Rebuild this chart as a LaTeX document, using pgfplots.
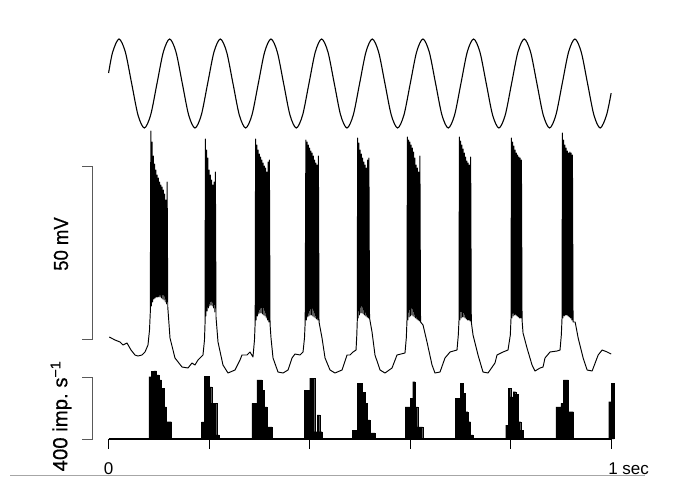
\documentclass[border=0pt]{standalone}
\usepackage{pgfplots}
\pgfplotsset{compat=1.18}
\usepackage{fontspec}
\setmainfont{Liberation Sans}
\newfontfamily\boldish[FakeBold=0.6]{Liberation Sans}
\newcommand\lbl{\fontsize{17}{20}\selectfont}
\newcommand\slbl{\boldish\fontsize{18.5}{22}\selectfont}
\begin{document}
\begin{tikzpicture}
\begin{axis}[
  scale only axis, width=675pt, height=480pt,
  xmin=-216.1, xmax=1127.1, ymin=-480, ymax=0,
  hide axis, clip=false,
  hist/.style={const plot, fill=black, draw=black, line width=0.2pt,
               y filter/.expression={-439+0.155*y}},
]
% ---- stimulus (sinusoid), x in ms, y in picture units ----
\addplot[black, line width=1.1pt, smooth] coordinates {
(0,-73) (8.1,-52) (20.7,-39) (33.3,-52) (45.9,-83.5) (58.5,-115) (71.1,-128) (83.7,-115) (96.3,-83.5) (108.9,-52)
(121.5,-39) (134.1,-52) (146.7,-83.5) (159.3,-115) (171.9,-128) (184.5,-115) (197.1,-83.5) (209.7,-52)
(222.3,-39) (234.9,-52) (247.5,-83.5) (260.1,-115) (272.7,-128) (285.3,-115) (297.9,-83.5) (310.5,-52)
(323.1,-39) (335.7,-52) (348.3,-83.5) (360.9,-115) (373.5,-128) (386.1,-115) (398.7,-83.5) (411.3,-52)
(423.9,-39) (436.5,-52) (449.1,-83.5) (461.7,-115) (474.3,-128) (486.9,-115) (499.5,-83.5) (512.1,-52)
(524.7,-39) (537.3,-52) (549.9,-83.5) (562.5,-115) (575.1,-128) (587.7,-115) (600.3,-83.5) (612.9,-52)
(625.5,-39) (638.1,-52) (650.7,-83.5) (663.3,-115) (675.9,-128) (688.5,-115) (701.1,-83.5) (713.7,-52)
(726.3,-39) (738.9,-52) (751.5,-83.5) (764.1,-115) (776.7,-128) (789.3,-115) (801.9,-83.5) (814.5,-52)
(827.1,-39) (839.7,-52) (852.3,-83.5) (864.9,-115) (877.5,-128) (890.1,-115) (902.7,-83.5) (915.3,-52)
(927.9,-39) (940.5,-52) (953.1,-83.5) (965.7,-115) (978.3,-128) (990.9,-115) (1000,-93.1)
};
% ---- membrane potential with spike bursts ----
\addplot[black, line width=0.95pt, line join=round] coordinates {
(1.4,-337) (12.7,-340) (22.7,-342) (28.7,-345) (36.6,-343) (44.6,-350) (52.5,-355) (58.5,-356) (66.5,-355) (72.4,-352) (78.4,-345) (81.4,-330) (83.0,-312)
(84,-131) (85.25,-306) (86.5,-142) (87.75,-302) (89,-156) (90.25,-299) (91.5,-164) (92.75,-298) (94,-170) (95.25,-297)
(96.5,-175) (97.75,-297) (99,-178) (100.25,-297) (101.5,-182) (102.75,-297) (104,-185) (105.25,-298) (106.5,-187) (107.75,-299)
(109,-190) (110.25,-300) (111.5,-194) (112.75,-302) (114,-200) (115.25,-304) (116.5,-182) (117.75,-307)
(122.2,-338) (132.1,-358) (146.1,-367) (158,-368) (165.9,-363) (171.9,-365) (177.9,-360) (187.8,-355) (190.8,-340) (192,-322)
(192.5,-139) (193.75,-316) (195,-150) (196.25,-311) (197.5,-158) (198.75,-308) (200,-170) (201.25,-306) (202.5,-175) (203.75,-305)
(205,-180) (206.25,-306) (207.5,-185) (208.75,-308) (210,-182) (211.25,-312) (212.5,-172) (213.75,-317)
(217.7,-342) (227.6,-365) (237.6,-373) (251.5,-370) (261.5,-360) (265.4,-355) (275.4,-355) (281.4,-352) (287.3,-357) (290.3,-340) (291.7,-322)
(292.5,-139) (293.75,-320) (295,-145) (296.25,-316) (297.5,-150) (298.75,-314) (300,-154) (301.25,-313) (302.5,-157) (303.75,-313)
(305,-160) (306.25,-314) (307.5,-163) (308.75,-315) (310,-166) (311.25,-316) (312.5,-168) (313.75,-318) (315,-172) (316.25,-320)
(317.5,-162) (318.75,-322) (320,-160) (321.25,-324)
(323.2,-338) (327.2,-358) (337.1,-372) (347.1,-373) (357,-370) (365,-358) (370.9,-354) (380.9,-355) (386.9,-352) (389.8,-338) (391.2,-322)
(392.5,-140) (393.75,-320) (395,-142) (396.25,-317) (397.5,-145) (398.75,-316) (400,-148) (401.25,-315) (402.5,-151) (403.75,-315)
(405,-153) (406.25,-316) (407.5,-156) (408.75,-317) (410,-160) (411.25,-318) (412.5,-163) (413.75,-319) (415,-165) (416.25,-320)
(417.5,-156) (418.75,-322)
(424.7,-338) (430.7,-358) (440.6,-370) (450.5,-373) (464.5,-370) (474.4,-355) (480.4,-355) (486.4,-352) (492.4,-350) (493.9,-335) (494.9,-320)
(495.5,-138) (496.75,-318) (498,-143) (499.25,-315) (500.5,-150) (501.75,-313) (503,-154) (504.25,-313) (505.5,-158) (506.75,-314)
(508,-162) (509.25,-315) (510.5,-165) (511.75,-316) (513,-168) (514.25,-317) (515.5,-160) (516.75,-318) (518,-158) (519.25,-318)
(524.2,-332) (530.1,-355) (540.1,-370) (550,-373) (564,-368) (573.9,-355) (581.9,-354) (589.8,-353) (592.4,-338) (593.8,-320)
(594.5,-137) (595.75,-320) (597,-140) (598.25,-317) (599.5,-142) (600.75,-316) (602,-145) (603.25,-315) (604.5,-148) (605.75,-316)
(607,-152) (608.25,-317) (609.5,-158) (610.75,-318) (612,-165) (613.25,-319) (614.5,-168) (615.75,-320) (617,-172) (618.25,-321)
(619.5,-156) (620.75,-322)
(625.7,-325) (633.6,-342) (643.6,-365) (649.5,-373) (659.5,-372) (669.4,-358) (679.4,-352) (693.3,-350) (695.9,-335) (697.3,-320)
(698,-137) (699.25,-320) (700.5,-141) (701.75,-318) (703,-145) (704.25,-317) (705.5,-149) (706.75,-317) (708,-153) (709.25,-318)
(710.5,-157) (711.75,-319) (713,-161) (714.25,-320) (715.5,-163) (716.75,-320) (718,-165) (719.25,-321) (720.5,-157) (721.75,-322)
(725.2,-335) (735.1,-355) (745,-372) (755,-373) (768.9,-363) (772.9,-355) (784.9,-352) (794.8,-350) (799.4,-335) (800.8,-318)
(801.5,-138) (802.75,-318) (804,-142) (805.25,-316) (806.5,-146) (807.75,-315) (809,-150) (810.25,-315) (811.5,-153) (812.75,-316)
(814,-155) (815.25,-317) (816.5,-157) (817.75,-318) (819,-158) (820.25,-318) (821.5,-160) (822.75,-320)
(824.7,-333) (832.6,-348) (842.6,-365) (848.5,-371) (858.5,-368) (864.5,-367) (868.4,-358) (878.4,-352) (892.3,-351) (898.3,-350) (900.9,-335) (902.3,-318)
(903,-133) (904.25,-318) (905.5,-140) (906.75,-316) (908,-145) (909.25,-315) (910.5,-148) (911.75,-315) (913,-151) (914.25,-316)
(915.5,-153) (916.75,-317) (918,-152) (919.25,-318) (920.5,-153) (921.75,-320) (923,-155) (924.25,-322)
(928.4,-322) (934.4,-338) (944.3,-358) (952.3,-370) (962.2,-371) (974.2,-355) (982.1,-350) (992.1,-352) (1000,-354)
};
% ---- spike-rate histogram (imp/s, 5 ms bins) ----
\addplot[hist] coordinates {(80,0) (80,402) (85,435) (90,439) (95,413) (100,381) (105,329) (110,208) (115,112) (120,112) (125,0)};
\addplot[hist] coordinates {(185,0) (185,110) (190,406) (195,406) (200,337) (205,232) (210,232) (215,26) (220,0)};
\addplot[hist] coordinates {(285,0) (285,230) (290,230) (295,381) (300,381) (305,316) (310,208) (315,79) (320,79) (325,0)};
\addplot[hist] coordinates {(390,0) (390,316) (395,316) (400,392) (405,392) (410,47) (415,155) (420,47) (425,0)};
\addplot[hist] coordinates {(485,0) (485,58) (490,58) (495,359) (500,359) (505,300) (510,232) (515,123) (520,39) (525,39) (530,0)};
\addplot[hist] coordinates {(590,0) (590,208) (595,208) (600,264) (605,370) (610,208) (615,79) (620,79) (625,0)};
\addplot[hist] coordinates {(690,0) (690,263) (695,263) (700,359) (705,295) (710,176) (715,112) (720,26) (725,0)};
\addplot[hist] coordinates {(790,0) (790,90) (795,327) (800,271) (805,305) (810,290) (815,112) (820,58) (825,0)};
\addplot[hist] coordinates {(890,0) (890,208) (895,208) (900,230) (905,381) (910,381) (915,176) (920,176) (925,0)};
\addplot[hist] coordinates {(995,0) (995,241) (1000,359) (1006,0)};
% ---- time axis ----
\addplot[black, line width=1.2pt] coordinates {(0,-439) (1000,-439)};
\addplot[black, line width=0.9pt, unbounded coords=jump] coordinates {
(0,-439) (0,-449) (100,nan) (200,-439) (200,-449) (300,nan) (400,-439) (400,-449) (500,nan)
(600,-439) (600,-449) (700,nan) (800,-439) (800,-449) (900,nan) (1000,-439) (1000,-449)};
% ---- scale bars ----
\addplot[black!65, line width=0.8pt] coordinates {(-52,-166) (-32,-166) (-32,-339) (-52,-339)};
\addplot[black!65, line width=0.8pt, y filter/.expression={-439+0.155*y}] coordinates {(-52,400) (-32,400) (-32,0) (-52,0)};
% ---- bottom rule ----
\addplot[black!35, line width=1pt] coordinates {(-196,-475) (1067,-475)};
% ---- labels ----
\node[rotate=90, font=\slbl, inner sep=0pt] at (axis cs:-94.7,-244) {\scalebox{1}[1.1]{50 mV}};
\node[rotate=90, font=\slbl, inner sep=0pt] at (axis cs:-94.7,-416) {\scalebox{1.1}[1.1]{400 imp.\ s\textsuperscript{\char"2212 1}}};
\node[font=\lbl, inner sep=0pt, anchor=base] at (axis cs:0,-474) {0};
\node[font=\lbl, inner sep=0pt, anchor=base west] at (axis cs:994,-474) {1 sec};
\end{axis}
\path (current axis.south west) rectangle (current axis.north east);
\end{tikzpicture}
\end{document}
